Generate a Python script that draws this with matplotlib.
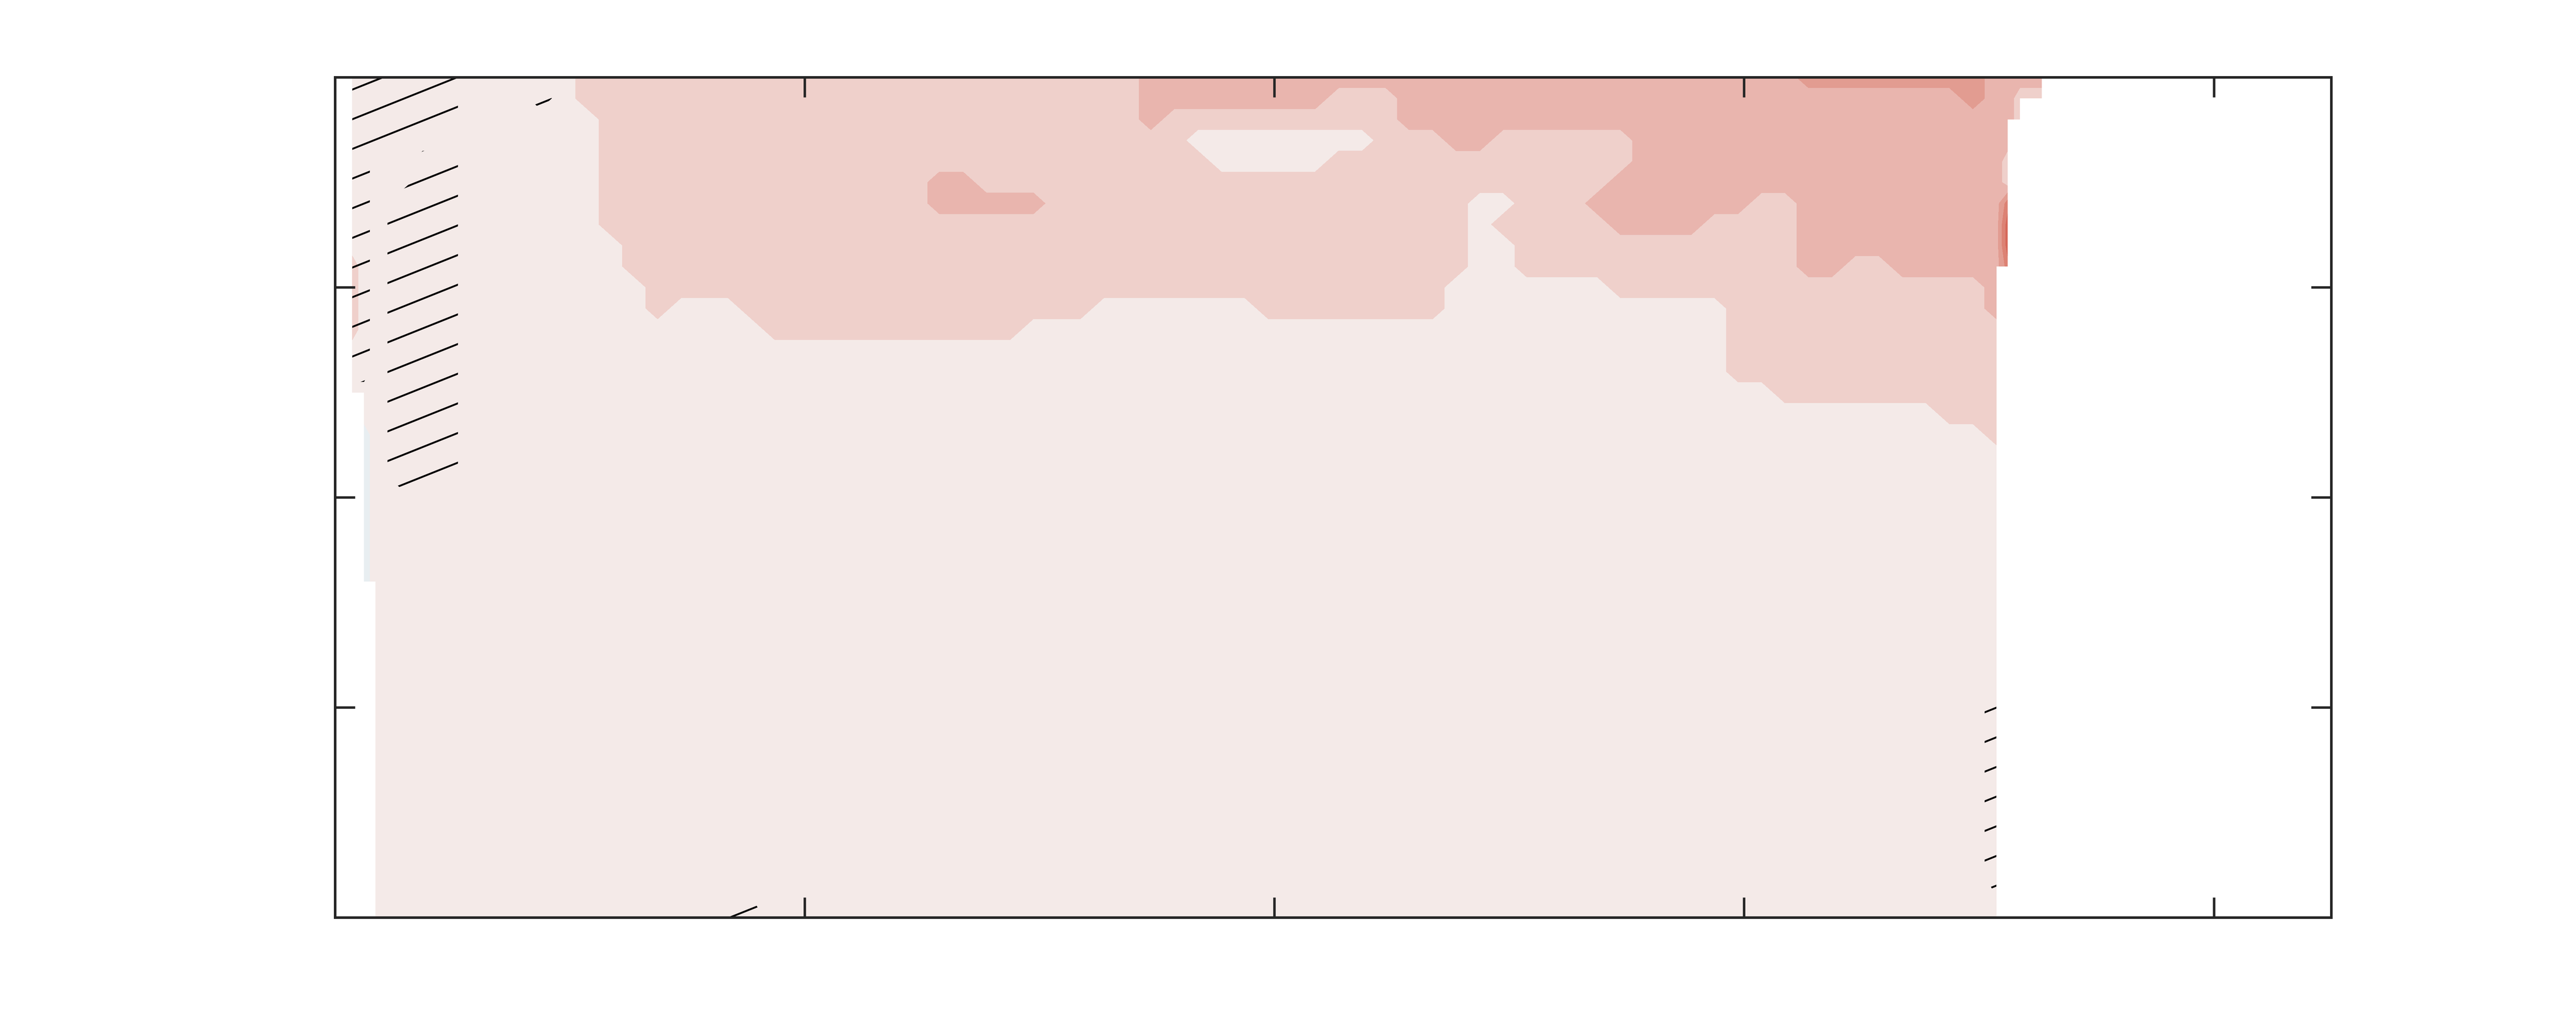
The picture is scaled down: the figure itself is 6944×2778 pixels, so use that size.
import numpy as np
import matplotlib
matplotlib.use("Agg")
import matplotlib.pyplot as plt
from matplotlib.collections import LineCollection

# ---------------- data ----------------
# grid coordinates (along-section distance, depth) in axis units
x_grid = [0.037, 0.062] + [round(0.087 + 0.05 * k, 3) for k in range(70)] + [3.561, 3.587, 3.612, 3.633]
y_grid = [round(0.1 * k, 1) for k in range(25)] + [2.6, 2.8, 3.0, 3.2, 3.4, 3.6, 3.8, 4.0]

# field class: 0 blue(<0), 1..6 increasing red bands, '.' = no data
field_rows = [
    "1111111111 1222222222 2222222222 2222233333 3333333333 3333333333 3334444444 433333",
    "1111111111 1222222222 2222222222 2222233333 3332223333 3333333333 3333333333 433222",
    "1111111111 1122222222 2222222222 2222232222 2222223333 3333333333 3333333333 3332..",
    "1111111111 1122222222 2222222222 2222222111 1111122233 2222223333 3333333333 333...",
    "1111111111 1122222222 2222222222 2222222211 1112222222 2222223333 3333333333 332...",
    "1111111111 1122222222 2222223322 2222222222 2222222222 2222233333 3333333333 332...",
    "1111111111 1122222222 2222223333 3222222222 2222222221 1222333333 3223333333 335...",
    "1111111111 1122222222 2222222222 2222222222 2222222221 2222233332 2223333333 336...",
    "1111111111 1112222222 2222222222 2222222222 2222222221 1222222222 2223333333 336...",
    "2111111111 1112222222 2222222222 2222222222 2222222221 1222222222 2223322333 335...",
    "2111111111 1111222222 2222222222 2222222222 2222222211 1111122222 2222222222 23....",
    "2111111111 1111211122 2222222222 2221111111 2222222211 1111111111 2222222222 23....",
    "2111111111 1111111112 2222222222 1111111111 1111111111 1111111111 2222222222 22....",
    "1111111111 1111111111 1111111111 1111111111 1111111111 1111111111 2222222222 22....",
    "1111111111 1111111111 1111111111 1111111111 1111111111 1111111111 2222222222 22....",
    "1111111111 1111111111 1111111111 1111111111 1111111111 1111111111 1122222222 22....",
    ".111111111 1111111111 1111111111 1111111111 1111111111 1111111111 1111111112 22....",
    ".011111111 1111111111 1111111111 1111111111 1111111111 1111111111 1111111111 12....",
    ".011111111 1111111111 1111111111 1111111111 1111111111 1111111111 1111111111 11....",
    ".011111111 1111111111 1111111111 1111111111 1111111111 1111111111 1111111111 11....",
    ".011111111 1111111111 1111111111 1111111111 1111111111 1111111111 1111111111 11....",
    ".011111111 1111111111 1111111111 1111111111 1111111111 1111111111 1111111111 11....",
    ".011111111 1111111111 1111111111 1111111111 1111111111 1111111111 1111111111 11....",
    ".011111111 1111111111 1111111111 1111111111 1111111111 1111111111 1111111111 11....",
    ".011111111 1111111111 1111111111 1111111111 1111111111 1111111111 1111111111 11....",
    "..11111111 1111111111 1111111111 1111111111 1111111111 1111111111 1111111111 11....",
    "..11111111 1111111111 1111111111 1111111111 1111111111 1111111111 1111111111 11....",
    "..11111111 1111111111 1111111111 1111111111 1111111111 1111111111 1111111111 11....",
    "..11111111 1111111111 1111111111 1111111111 1111111111 1111111111 1111111111 11....",
    "..11111111 1111111111 1111111111 1111111111 1111111111 1111111111 1111111111 11....",
    "..11111111 1111111111 1111111111 1111111111 1111111111 1111111111 1111111111 11....",
    "..11111111 1111111111 1111111111 1111111111 1111111111 1111111111 1111111111 11....",
    "..11111111 1111111111 1111111111 1111111111 1111111111 1111111111 1111111111 11....",
]

# significance mask (1 = hatched)
signif_rows = [
    "1111110000 0000000000 0000000000 0000000000 0000000000 0000000000 0000000000 000000",
    "1111110001 0000000000 0000000000 0000000000 0000000000 0000000000 0000000000 000000",
    "1111110000 0000000000 0000000000 0000000000 0000000000 0000000000 0000000000 000000",
    "1111000000 0000000000 0000000000 0000000000 0000000000 0000000000 0000000000 000000",
    "1100110000 0000000000 0000000000 0000000000 0000000000 0000000000 0000000000 000000",
    "1100110000 0000000000 0000000000 0000000000 0000000000 0000000000 0000000000 000000",
    "1101110000 0000000000 0000000000 0000000000 0000000000 0000000000 0000000000 000000",
    "1101110000 0000000000 0000000000 0000000000 0000000000 0000000000 0000000000 000000",
    "1101110000 0000000000 0000000000 0000000000 0000000000 0000000000 0000000000 000000",
    "1101110000 0000000000 0000000000 0000000000 0000000000 0000000000 0000000000 000000",
    "1101110000 0000000000 0000000000 0000000000 0000000000 0000000000 0000000000 000000",
    "1101110000 0000000000 0000000000 0000000000 0000000000 0000000000 0000000000 000000",
    "1101110000 0000000000 0000000000 0000000000 0000000000 0000000000 0000000000 000000",
    "1101110000 0000000000 0000000000 0000000000 0000000000 0000000000 0000000000 000000",
    "1101110000 0000000000 0000000000 0000000000 0000000000 0000000000 0000000000 000000",
    "0001110000 0000000000 0000000000 0000000000 0000000000 0000000000 0000000000 000000",
    "0001110000 0000000000 0000000000 0000000000 0000000000 0000000000 0000000000 000000",
    "0001110000 0000000000 0000000000 0000000000 0000000000 0000000000 0000000000 000000",
    "0001110000 0000000000 0000000000 0000000000 0000000000 0000000000 0000000000 000000",
    "0001110000 0000000000 0000000000 0000000000 0000000000 0000000000 0000000000 000000",
    "0000000000 0000000000 0000000000 0000000000 0000000000 0000000000 0000000000 000000",
    "0000000000 0000000000 0000000000 0000000000 0000000000 0000000000 0000000000 000000",
    "0000000000 0000000000 0000000000 0000000000 0000000000 0000000000 0000000000 000000",
    "0000000000 0000000000 0000000000 0000000000 0000000000 0000000000 0000000000 000000",
    "0000000000 0000000000 0000000000 0000000000 0000000000 0000000000 0000000000 000000",
    "0000000000 0000000000 0000000000 0000000000 0000000000 0000000000 0000000000 000000",
    "0000000000 0000000000 0000000000 0000000000 0000000000 0000000000 0000000000 000000",
    "0000000000 0000000000 0000000000 0000000000 0000000000 0000000000 0000000000 010000",
    "0000000000 0000000000 0000000000 0000000000 0000000000 0000000000 0000000000 010000",
    "0000000000 0000000000 0000000000 0000000000 0000000000 0000000000 0000000000 010000",
    "0000000000 0000000000 0000000000 0000000000 0000000000 0000000000 0000000000 010000",
    "0000000000 0000000000 0000000000 0000000000 0000000000 0000000000 0000000000 010000",
    "0000000000 0000000110 0000000000 0000000000 0000000000 0000000000 0000000000 000000",
]

class_values = {'.': np.nan, '0': -0.5, '1': 0.5, '2': 1.5, '3': 2.5, '4': 3.5, '5': 4.5, '6': 5.5}
band_levels = [-1, 0, 1, 2, 3, 4, 5, 6]
band_colors = ['#E8EEF1', '#F4EAE8', '#EFD0CB', '#E9B5AE', '#E29C91', '#DC8274', '#D6685A']

x_ticks = [1, 2, 3, 4]
y_ticks = [1, 2, 3]

# ---------------- build arrays ----------------
Z = np.array([[class_values[c] for c in r.replace(' ', '')] for r in field_rows])
S = np.array([[float(c) for c in r.replace(' ', '')] for r in signif_rows])
assert Z.shape == (len(y_grid), len(x_grid)), Z.shape
assert S.shape == Z.shape
S = np.where(np.isnan(Z), np.nan, S)
X, Y = np.meshgrid(x_grid, y_grid)
Zm = np.ma.masked_invalid(Z)
Sm = np.ma.masked_invalid(S)

# ---------------- figure ----------------
dpi = 400
fig = plt.figure(figsize=(6944 / dpi, 2778 / dpi), dpi=dpi)
ax = fig.add_axes([0.13, 0.11, 0.775, 0.815])

ax.contourf(X, Y, Zm, levels=band_levels, colors=band_colors, antialiased=False,
            corner_mask=False, zorder=1)

cs_sig = ax.contourf(X, Y, Sm, levels=[0.5, 1.5], colors='none', corner_mask=False, zorder=1)
clip_path = cs_sig.get_paths()[0]

# shallow-angle hatch lines clipped to the significant area
slope, spacing, phase = 0.95, 0.0353, 0.024
segs = [[(0.0, phase + k * spacing), (1.0, phase + k * spacing + slope)] for k in range(-32, 34)]
lc = LineCollection(segs, colors='black', linewidths=0.9, transform=ax.transAxes, zorder=2)
ax.add_collection(lc, autolim=False)
lc.set_clip_path(clip_path, ax.transData)

ax.set_xlim(0, 4.25)
ax.set_ylim(4, 0)
ax.set_xticks(x_ticks)
ax.set_yticks(y_ticks)
ax.tick_params(which='both', direction='in', length=9.7, width=1.2, color='#262626',
               top=True, right=True, labelbottom=False, labelleft=False)
for sp in ax.spines.values():
    sp.set_linewidth(1.25)
    sp.set_color('#262626')
    sp.set_zorder(3)

fig.savefig('out.png', dpi=dpi, facecolor='white')
